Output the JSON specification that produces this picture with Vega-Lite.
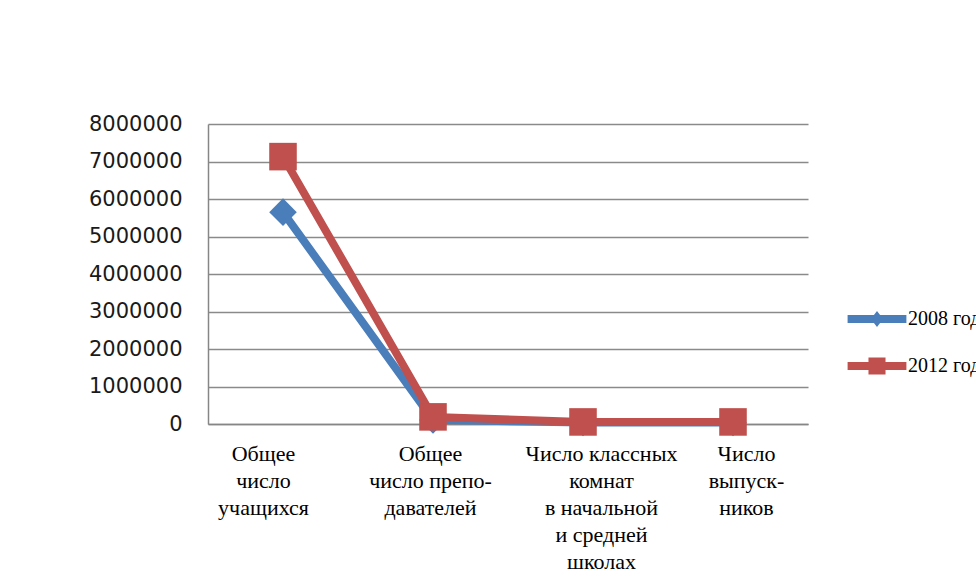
{
  "$schema": "https://vega.github.io/schema/vega-lite/v6.json",
  "width": 600,
  "height": 300,
  "autosize": {"type": "none"},
  "padding": {"left": 208, "top": 124, "right": 168, "bottom": 159},
  "background": "white",
  "config": {"view": {"stroke": null}},
  "data": {
    "values": [
      {"category": "Общее|число|учащихся", "series": "2008 год", "value": 5650000},
      {"category": "Общее|число препо-|давателей", "series": "2008 год", "value": 110000},
      {"category": "Число классных|комнат|в начальной|и средней|школах", "series": "2008 год", "value": 40000},
      {"category": "Число|выпуск-|ников", "series": "2008 год", "value": 40000},
      {"category": "Общее|число|учащихся", "series": "2012 год", "value": 7130000},
      {"category": "Общее|число препо-|давателей", "series": "2012 год", "value": 190000},
      {"category": "Число классных|комнат|в начальной|и средней|школах", "series": "2012 год", "value": 55000},
      {"category": "Число|выпуск-|ников", "series": "2012 год", "value": 55000}
    ]
  },
  "encoding": {
    "x": {
      "field": "category",
      "type": "nominal",
      "sort": null,
      "scale": {"type": "point", "padding": 0.5},
      "axis": {
        "title": null,
        "labelExpr": "split(datum.label, '|')",
        "labelFont": "Liberation Serif",
        "labelFontSize": 22,
        "labelLineHeight": 27,
        "labelColor": "black",
        "labelAngle": 0,
        "labelBaseline": "top",
        "labelPadding": 19,
        "labelOffset": {
          "condition": [
            {"test": "indexof(datum.value, 'учащихся') >= 0", "value": -20},
            {"test": "indexof(datum.value, 'давателей') >= 0", "value": -3},
            {"test": "indexof(datum.value, 'школах') >= 0", "value": 18}
          ],
          "value": 13
        },
        "ticks": false,
        "grid": false,
        "domain": true,
        "domainColor": "#868686",
        "domainWidth": 1.5,
        "labelLimit": 300
      }
    },
    "y": {
      "field": "value",
      "type": "quantitative",
      "scale": {"domain": [0, 8000000]},
      "axis": {
        "title": null,
        "values": [0, 1000000, 2000000, 3000000, 4000000, 5000000, 6000000, 7000000, 8000000],
        "format": "d",
        "labelFont": "DejaVu Sans",
        "labelFontSize": 21,
        "labelColor": "#1a1a1a",
        "labelPadding": 26,
        "ticks": false,
        "domain": true,
        "domainColor": "#868686",
        "domainWidth": 1.5,
        "grid": true,
        "gridColor": "#8a8a8a",
        "gridWidth": 1.3
      }
    },
    "color": {
      "field": "series",
      "type": "nominal",
      "scale": {"domain": ["2008 год", "2012 год"], "range": ["#4a7ebb", "#c0504d"]},
      "legend": null
    }
  },
  "layer": [
    {"mark": {"type": "line", "strokeWidth": 8, "strokeJoin": "round"}},
    {
      "mark": {"type": "point", "filled": true, "size": 760, "opacity": 1},
      "encoding": {
        "shape": {
          "field": "series",
          "type": "nominal",
          "scale": {"domain": ["2008 год", "2012 год"], "range": ["diamond", "square"]},
          "legend": null
        }
      }
    },
    {
      "transform": [{"filter": "datum.series === '2008 год'"}],
      "mark": {"type": "point", "filled": true, "size": 0, "opacity": 1},
      "encoding": {
        "shape": {
          "field": "series",
          "type": "nominal",
          "scale": {
            "domain": ["2008 год"],
            "range": ["M-4.9,-0.65L-0.51,-0.65L0,-1.33L0.51,-0.65L4.9,-0.65L4.9,0.65L0.51,0.65L0,1.33L-0.51,0.65L-4.9,0.65Z"]
          },
          "legend": {
            "orient": "none",
            "legendX": 659,
            "legendY": 185,
            "title": null,
            "padding": 0,
            "labelFont": "Liberation Serif",
            "labelFontSize": 20,
            "labelColor": "black",
            "symbolSize": 144,
            "symbolStrokeWidth": 0,
            "symbolFillColor": "#4a7ebb",
            "labelOffset": 21
          }
        }
      }
    },
    {
      "transform": [{"filter": "datum.series === '2012 год'"}],
      "mark": {"type": "point", "filled": true, "size": 0, "opacity": 1},
      "encoding": {
        "shape": {
          "field": "series",
          "type": "nominal",
          "scale": {
            "domain": ["2012 год"],
            "range": ["M-4.9,-0.65L-1.42,-0.65L-1.42,-1.42L1.42,-1.42L1.42,-0.65L4.9,-0.65L4.9,0.65L1.42,0.65L1.42,1.42L-1.42,1.42L-1.42,0.65L-4.9,0.65Z"]
          },
          "legend": {
            "orient": "none",
            "legendX": 659,
            "legendY": 232,
            "title": null,
            "padding": 0,
            "labelFont": "Liberation Serif",
            "labelFontSize": 20,
            "labelColor": "black",
            "symbolSize": 144,
            "symbolStrokeWidth": 0,
            "symbolFillColor": "#c0504d",
            "labelOffset": 21
          }
        }
      }
    }
  ],
  "resolve": {"scale": {"shape": "independent"}, "legend": {"shape": "independent"}}
}
